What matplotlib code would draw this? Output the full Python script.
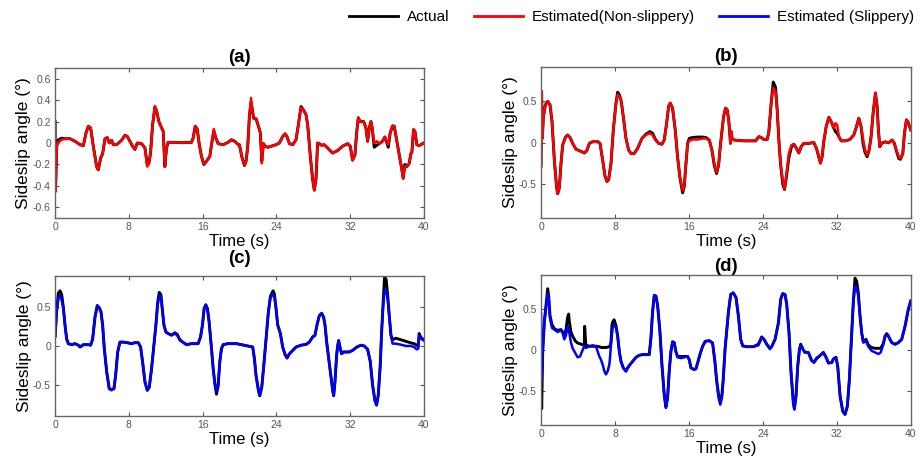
import matplotlib.pyplot as plt
from matplotlib.lines import Line2D

plt.rcParams['font.family'] = ['Liberation Sans', 'DejaVu Sans']

# ---- panel (a): non-slippery ----
ta = [0, 0.05, 0.18, 0.36, 0.72, 1.08, 1.62, 2.17, 2.71, 3.07,
      3.36, 3.61, 3.86, 4.15, 4.51, 4.69, 4.95, 5.16, 5.42, 5.67,
      5.88, 6.14, 6.32, 6.68, 7.22, 7.58, 7.83, 8.12, 8.41, 8.66,
      8.92, 9.39, 9.75, 10.0, 10.22, 10.36, 10.58, 10.83, 11.01, 11.26,
      11.48, 11.73, 11.91, 12.09, 12.27, 12.82, 13.9, 14.8, 14.98, 15.2,
      15.42, 15.63, 15.88, 16.14, 16.43, 16.79, 16.97, 17.22, 17.44, 17.69,
      18.23, 18.77, 19.13, 19.49, 19.86, 20.0, 20.25, 20.54, 20.72, 20.9,
      21.08, 21.26, 21.41, 21.55, 21.81, 22.06, 22.27, 22.42, 22.6, 22.78,
      23.07, 23.43, 23.97, 24.33, 24.69, 24.95, 25.16, 25.42, 25.78, 26.14,
      26.39, 26.68, 26.93, 27.22, 27.4, 27.69, 27.94, 28.12, 28.3, 28.48,
      28.66, 28.92, 29.2, 29.57, 30.11, 30.65, 31.19, 31.73, 32.02, 32.27,
      32.53, 32.71, 32.89, 33.1, 33.47, 33.72, 33.9, 34.08, 34.26, 34.4,
      34.62, 34.91, 35.16, 35.52, 35.78, 35.99, 36.14, 36.35, 36.61, 36.79,
      37.04, 37.33, 37.58, 37.76, 37.94, 38.16, 38.41, 38.59, 38.7, 38.88,
      39.03, 39.24, 39.49, 39.86, 40.0]
a_est = [0.2, -0.45, -0.03, 0.006, 0.03, 0.04, 0.04, 0.016, -0.016, -0.025,
         0.094, 0.156, 0.14, -0.03, -0.22, -0.25, -0.14, -0.1, 0.04, 0.05,
         0.0, 0.025, -0.016, -0.016, 0.025, 0.072, 0.062, 0.016, -0.03, -0.06,
         0.0, -0.006, -0.047, -0.22, -0.19, -0.09, 0.17, 0.345, 0.3, 0.2,
         0.156, 0.11, -0.22, -0.047, 0.006, 0.006, 0.003, 0.006, 0.047, 0.156,
         0.13, -0.006, -0.125, -0.2, -0.17, -0.125, -0.016, 0.13, 0.047, -0.006,
         -0.016, 0.006, 0.03, 0.016, -0.016, -0.016, -0.125, -0.21, -0.17, -0.03,
         0.25, 0.42, 0.3, 0.23, 0.225, 0.156, 0.094, -0.19, -0.006, -0.03,
         -0.04, -0.03, -0.016, 0.0, 0.06, 0.085, 0.06, -0.006, -0.016, 0.03,
         0.17, 0.33, 0.31, 0.265, 0.17, -0.125, -0.34, -0.44, -0.34, 0.0,
         -0.006, -0.022, -0.016, -0.047, -0.094, -0.07, -0.03, -0.006, -0.03, -0.16,
         -0.11, 0.094, 0.235, 0.2, 0.2, 0.14, 0.016, 0.14, 0.2, 0.14,
         0.0, 0.016, -0.006, 0.016, 0.056, 0.0, -0.016, 0.094, 0.16, 0.156,
         0.03, -0.11, -0.23, -0.33, -0.22, -0.22, -0.19, -0.1, -0.09, 0.125,
         0.11, -0.016, -0.025, -0.006, 0.0]
a_act = [0.2, -0.45, -0.03, 0.03, 0.045, 0.04, 0.04, 0.016, -0.016, -0.025,
         0.094, 0.156, 0.14, -0.03, -0.22, -0.25, -0.14, -0.1, 0.04, 0.05,
         0.0, 0.025, -0.016, -0.016, 0.025, 0.072, 0.062, 0.016, -0.03, -0.06,
         0.0, -0.006, -0.047, -0.2, -0.17, -0.09, 0.17, 0.33, 0.3, 0.2,
         0.156, 0.11, -0.22, -0.047, 0.006, 0.006, 0.003, 0.006, 0.047, 0.156,
         0.13, -0.006, -0.125, -0.2, -0.17, -0.125, -0.016, 0.11, 0.047, -0.006,
         -0.016, 0.006, 0.03, 0.016, -0.016, -0.016, -0.125, -0.21, -0.17, -0.03,
         0.25, 0.38, 0.3, 0.23, 0.225, 0.156, 0.094, -0.17, -0.006, -0.03,
         -0.04, -0.03, -0.016, 0.0, 0.06, 0.085, 0.06, -0.006, -0.016, 0.03,
         0.17, 0.34, 0.31, 0.265, 0.17, -0.125, -0.34, -0.44, -0.34, 0.0,
         -0.006, -0.022, -0.016, -0.047, -0.094, -0.07, -0.03, -0.006, -0.03, -0.16,
         -0.11, 0.094, 0.235, 0.2, 0.2, 0.14, 0.016, 0.14, 0.2, 0.14,
         -0.04, -0.02, -0.006, 0.016, 0.056, 0.0, -0.04, 0.094, 0.16, 0.156,
         0.03, -0.11, -0.23, -0.33, -0.2, -0.22, -0.19, -0.1, -0.09, 0.125,
         0.11, -0.016, -0.025, -0.006, 0.0]

# ---- panel (b): non-slippery ----
tb = [0, 0.06, 0.14, 0.25, 0.47, 0.72, 0.97, 1.19, 1.44, 1.69,
      1.8, 1.98, 2.16, 2.34, 2.63, 2.88, 3.14, 3.42, 3.78, 4.32,
      4.68, 4.94, 5.23, 5.59, 6.13, 6.38, 6.67, 6.92, 7.14, 7.32,
      7.57, 7.82, 8.11, 8.29, 8.47, 8.68, 8.9, 9.19, 9.48, 9.73,
      10.09, 10.45, 10.92, 11.35, 11.78, 12.07, 12.36, 12.72, 13.08, 13.33,
      13.59, 13.8, 13.98, 14.23, 14.52, 14.77, 15.03, 15.32, 15.5, 15.68,
      15.86, 16.04, 16.4, 16.94, 17.48, 17.84, 18.2, 18.49, 18.74, 18.99,
      19.21, 19.39, 19.57, 19.75, 19.96, 20.14, 20.32, 20.5, 20.58, 20.68,
      21.05, 21.95, 23.21, 23.57, 23.82, 24.11, 24.47, 24.65, 24.9, 25.12,
      25.37, 25.55, 25.73, 25.91, 26.16, 26.34, 26.56, 26.81, 27.1, 27.35,
      27.64, 27.89, 28.14, 28.43, 28.97, 29.51, 29.8, 30.05, 30.23, 30.41,
      30.59, 30.85, 31.14, 31.39, 31.68, 31.86, 32.04, 32.22, 32.47, 32.94,
      33.41, 33.84, 34.13, 34.38, 34.63, 34.85, 35.06, 35.28, 35.5, 35.71,
      35.93, 36.18, 36.36, 36.5, 36.65, 36.9, 37.26, 37.62, 37.98, 38.23,
      38.45, 38.7, 38.88, 39.14, 39.32, 39.53, 39.68, 40.0]
b_est = [-0.28, 0.61, 0.05, 0.3, 0.45, 0.49, 0.45, 0.25, -0.21, -0.54,
         -0.61, -0.54, -0.25, -0.03, 0.06, 0.09, 0.06, -0.01, -0.08, -0.105,
         -0.125, -0.1, -0.01, 0.01, 0.01, -0.01, -0.21, -0.4, -0.465, -0.44,
         -0.25, 0.15, 0.47, 0.57, 0.55, 0.49, 0.31, 0.05, -0.09, -0.13,
         -0.13, -0.07, 0.05, 0.09, 0.11, 0.09, 0.03, -0.01, -0.02, 0.03,
         0.23, 0.43, 0.47, 0.41, 0.15, -0.17, -0.42, -0.57, -0.52, -0.25,
         -0.01, 0.02, 0.036, 0.036, 0.048, 0.048, 0.028, -0.09, -0.25, -0.355,
         -0.27, -0.05, 0.13, 0.31, 0.41, 0.39, 0.25, -0.01, 0.13, 0.036,
         0.028, 0.02, 0.02, 0.07, 0.06, 0.036, 0.036, 0.13, 0.47, 0.65,
         0.61, 0.39, 0.03, -0.25, -0.46, -0.56, -0.375, -0.13, -0.03, -0.02,
         -0.07, -0.125, -0.05, -0.01, -0.01, 0.0, -0.07, -0.17, -0.245, -0.17,
         0.01, 0.19, 0.3, 0.25, 0.17, 0.23, 0.21, 0.07, 0.02, 0.02,
         0.036, 0.09, 0.19, 0.29, 0.19, 0.03, -0.09, -0.15, -0.09, 0.07,
         0.35, 0.59, 0.43, 0.15, -0.05, -0.004, 0.008, -0.004, 0.03, -0.01,
         -0.09, -0.17, -0.19, -0.13, 0.11, 0.27, 0.25, 0.15]
b_act = [-0.28, 0.61, 0.05, 0.3, 0.45, 0.49, 0.45, 0.25, -0.21, -0.54,
         -0.61, -0.54, -0.25, -0.03, 0.06, 0.09, 0.06, -0.01, -0.08, -0.105,
         -0.125, -0.1, -0.01, 0.01, 0.01, -0.01, -0.21, -0.4, -0.465, -0.44,
         -0.25, 0.15, 0.47, 0.6, 0.57, 0.49, 0.31, 0.05, -0.09, -0.13,
         -0.13, -0.07, 0.05, 0.1, 0.13, 0.11, 0.04, -0.01, -0.02, 0.03,
         0.23, 0.43, 0.47, 0.41, 0.15, -0.17, -0.42, -0.6, -0.52, -0.25,
         -0.01, 0.05, 0.06, 0.065, 0.065, 0.06, 0.03, -0.09, -0.27, -0.37,
         -0.27, -0.05, 0.13, 0.31, 0.41, 0.39, 0.25, -0.01, 0.13, 0.036,
         0.028, 0.02, 0.02, 0.07, 0.06, 0.036, 0.036, 0.13, 0.47, 0.72,
         0.66, 0.39, 0.03, -0.25, -0.5, -0.56, -0.4, -0.18, -0.05, -0.02,
         -0.07, -0.125, -0.05, -0.01, -0.01, 0.0, -0.07, -0.17, -0.245, -0.17,
         0.01, 0.19, 0.3, 0.25, 0.17, 0.13, 0.11, 0.07, 0.02, 0.02,
         0.036, 0.09, 0.19, 0.29, 0.19, -0.02, -0.12, -0.17, -0.09, 0.07,
         0.35, 0.59, 0.43, 0.15, -0.05, -0.004, 0.008, -0.004, 0.03, -0.01,
         -0.1, -0.19, -0.2, -0.13, 0.11, 0.27, 0.25, 0.15]

# ---- panel (c): slippery ----
tc = [0, 0.18, 0.36, 0.54, 0.72, 0.9, 1.08, 1.26, 1.44, 1.81,
      2.17, 2.53, 2.71, 3.07, 3.61, 3.86, 4.08, 4.33, 4.58, 4.8,
      4.98, 5.16, 5.34, 5.6, 5.88, 6.14, 6.39, 6.57, 6.79, 7.04,
      7.4, 7.94, 8.3, 8.66, 9.03, 9.28, 9.49, 9.75, 10.0, 10.22,
      10.47, 10.72, 10.94, 11.12, 11.3, 11.48, 11.66, 11.81, 12.02, 12.27,
      12.64, 13.0, 13.25, 13.54, 13.83, 14.26, 14.8, 15.16, 15.52, 15.78,
      15.99, 16.17, 16.35, 16.53, 16.71, 16.97, 17.15, 17.33, 17.51, 17.69,
      17.87, 18.05, 18.23, 18.77, 19.68, 20.9, 21.44, 21.62, 21.8, 22.06,
      22.2, 22.42, 22.64, 22.89, 23.14, 23.36, 23.65, 23.79, 23.97, 24.15,
      24.44, 24.69, 24.95, 25.16, 25.42, 25.78, 26.14, 26.68, 27.22, 27.58,
      27.94, 28.19, 28.41, 28.66, 28.92, 29.13, 29.28, 29.46, 29.64, 29.86,
      30.11, 30.22, 30.36, 30.54, 30.65, 30.76, 30.9, 31.08, 31.3, 31.55,
      31.91, 32.27, 32.74, 33.18, 33.54, 33.9, 34.19, 34.44, 34.69, 34.87,
      35.05, 35.27, 35.42, 35.56, 35.74, 35.92, 36.07, 36.25, 36.43, 36.61,
      36.97, 37.51, 38.05, 38.59, 38.95, 39.21, 39.39, 39.49, 39.68, 40.0]
c_est = [0.12, 0.44, 0.61, 0.65, 0.59, 0.48, 0.27, 0.09, 0.03, 0.017,
         0.03, 0.01, -0.013, 0.017, 0.017, 0.01, 0.09, 0.37, 0.52, 0.49,
         0.44, 0.27, -0.03, -0.33, -0.55, -0.57, -0.54, -0.38, -0.08, 0.05,
         0.05, 0.04, 0.03, 0.043, 0.043, -0.013, -0.2, -0.46, -0.57, -0.53,
         -0.29, 0.01, 0.27, 0.52, 0.65, 0.63, 0.44, 0.27, 0.18, 0.16,
         0.137, 0.16, 0.137, 0.073, 0.052, 0.017, 0.03, 0.03, 0.03, 0.116,
         0.27, 0.48, 0.53, 0.48, 0.31, -0.034, -0.29, -0.48, -0.58, -0.51,
         -0.2, -0.034, 0.017, 0.03, 0.03, 0.0, -0.013, -0.16, -0.38, -0.57,
         -0.64, -0.53, -0.25, 0.094, 0.44, 0.62, 0.67, 0.63, 0.48, 0.27,
         0.16, -0.013, -0.11, -0.155, -0.1, -0.056, -0.013, 0.01, 0.02, 0.05,
         0.116, 0.137, 0.27, 0.39, 0.42, 0.37, 0.27, 0.05, -0.12, -0.33,
         -0.57, -0.64, -0.46, -0.12, 0.0, 0.07, -0.013, -0.1, -0.077, -0.077,
         -0.077, -0.056, -0.013, 0.01, 0.0, -0.043, -0.2, -0.5, -0.7, -0.76,
         -0.64, -0.25, 0.18, 0.48, 0.7, 0.72, 0.61, 0.39, 0.14, 0.03,
         0.03, 0.017, 0.0, 0.0, -0.013, -0.043, -0.034, 0.14, 0.094, 0.07]
c_act = [0.12, 0.46, 0.68, 0.71, 0.66, 0.5, 0.27, 0.09, 0.03, 0.017,
         0.03, 0.01, -0.013, 0.017, 0.017, 0.01, 0.09, 0.37, 0.52, 0.49,
         0.44, 0.27, -0.03, -0.33, -0.55, -0.56, -0.55, -0.38, -0.08, 0.05,
         0.05, 0.04, 0.03, 0.043, 0.043, -0.013, -0.2, -0.46, -0.57, -0.53,
         -0.29, 0.01, 0.27, 0.55, 0.69, 0.66, 0.44, 0.27, 0.18, 0.16,
         0.14, 0.17, 0.15, 0.08, 0.052, 0.017, 0.03, 0.03, 0.03, 0.116,
         0.27, 0.48, 0.53, 0.48, 0.31, -0.034, -0.29, -0.48, -0.62, -0.51,
         -0.2, -0.034, 0.017, 0.03, 0.03, 0.0, -0.013, -0.16, -0.38, -0.57,
         -0.64, -0.53, -0.25, 0.094, 0.44, 0.64, 0.71, 0.67, 0.48, 0.27,
         0.16, -0.013, -0.11, -0.155, -0.1, -0.056, -0.013, 0.01, 0.02, 0.05,
         0.116, 0.137, 0.27, 0.39, 0.42, 0.37, 0.27, 0.05, -0.12, -0.33,
         -0.57, -0.64, -0.46, -0.12, 0.0, 0.07, -0.013, -0.1, -0.077, -0.077,
         -0.077, -0.056, -0.013, 0.01, 0.0, -0.043, -0.2, -0.5, -0.7, -0.76,
         -0.64, -0.25, 0.18, 0.5, 0.9, 0.85, 0.66, 0.39, 0.14, 0.08,
         0.1, 0.08, 0.06, 0.04, 0.03, 0.01, 0.0, 0.16, 0.11, 0.08]

# ---- panel (d): slippery ----
td = [0, 0.07, 0.18, 0.36, 0.54, 0.72, 0.83, 0.97, 1.19, 1.44,
      1.8, 2.16, 2.34, 2.52, 2.7, 2.88, 2.99, 3.06, 3.17, 3.24,
      3.42, 3.71, 3.96, 4.22, 4.5, 4.68, 4.72, 4.83, 4.86, 5.23,
      5.59, 5.95, 6.13, 6.31, 6.49, 6.67, 6.85, 7.03, 7.21, 7.39,
      7.46, 7.57, 7.68, 7.75, 7.9, 8.11, 8.29, 8.47, 8.65, 8.9,
      9.19, 9.37, 9.62, 9.91, 10.27, 10.63, 10.99, 11.71, 11.89, 12.07,
      12.25, 12.43, 12.61, 12.86, 13.08, 13.33, 13.51, 13.69, 13.87, 14.05,
      14.23, 14.41, 14.59, 14.77, 15.14, 15.5, 15.86, 16.04, 16.22, 16.58,
      16.76, 16.94, 17.19, 17.48, 17.77, 18.2, 18.56, 18.81, 18.99, 19.21,
      19.39, 19.57, 19.71, 19.91, 20.27, 20.52, 20.8, 21.1, 21.35, 21.6,
      21.82, 22.25, 22.97, 23.51, 23.87, 24.13, 24.42, 24.77, 24.95, 25.32,
      25.68, 25.93, 26.14, 26.4, 26.58, 26.83, 27.05, 27.3, 27.41, 27.59,
      27.77, 27.95, 28.09, 28.38, 28.56, 28.92, 29.28, 29.53, 29.82, 30.18,
      30.54, 30.8, 31.09, 31.45, 31.63, 31.91, 32.1, 32.35, 32.64, 32.89,
      33.14, 33.36, 33.61, 33.79, 33.97, 34.15, 34.33, 34.51, 34.69, 34.87,
      35.16, 35.41, 35.77, 36.13, 36.5, 36.75, 37.04, 37.22, 37.4, 37.58,
      37.76, 37.94, 38.3, 38.66, 39.02, 39.38, 39.74, 40.0]
d_est = [0.45, -0.38, -0.02, 0.35, 0.51, 0.69, 0.63, 0.39, 0.27, 0.25,
         0.22, 0.24, 0.21, 0.13, 0.18, 0.29, 0.25, 0.21, 0.14, 0.09,
         0.02, -0.04, -0.09, -0.08, 0.0, 0.045, 0.04, 0.03, 0.025, 0.045,
         0.057, 0.045, -0.02, -0.08, -0.12, -0.18, -0.26, -0.3, -0.26, -0.18,
         -0.1, 0.065, 0.2, 0.27, 0.31, 0.27, 0.17, -0.02, -0.14, -0.22,
         -0.26, -0.22, -0.18, -0.14, -0.09, -0.065, -0.057, -0.057, 0.147, 0.47,
         0.67, 0.66, 0.55, 0.23, -0.18, -0.55, -0.71, -0.59, -0.26, -0.02,
         0.1, 0.09, -0.02, -0.09, -0.1, -0.09, -0.08, -0.12, -0.22, -0.24,
         -0.23, -0.16, -0.057, 0.045, 0.106, 0.114, 0.086, -0.14, -0.38, -0.59,
         -0.67, -0.59, -0.38, 0.01, 0.46, 0.68, 0.7, 0.64, 0.42, 0.13,
         0.05, 0.04, 0.04, 0.057, 0.147, 0.13, 0.07, 0.01, 0.04, 0.13,
         0.33, 0.62, 0.69, 0.68, 0.56, 0.21, -0.28, -0.65, -0.73, -0.56,
         -0.2, 0.0, 0.06, 0.0, -0.03, -0.03, -0.13, -0.155, -0.11, -0.07,
         -0.03, -0.08, -0.16, -0.155, -0.11, -0.09, -0.2, -0.56, -0.75, -0.79,
         -0.69, -0.36, 0.21, 0.58, 0.78, 0.76, 0.66, 0.42, 0.21, 0.09,
         0.11, 0.04, -0.01, -0.03, -0.05, -0.03, 0.07, 0.17, 0.19, 0.17,
         0.13, 0.09, 0.07, 0.09, 0.13, 0.29, 0.5, 0.6]
d_act = [-0.3, -0.72, -0.02, 0.35, 0.55, 0.75, 0.66, 0.42, 0.31, 0.26,
         0.24, 0.25, 0.22, 0.17, 0.25, 0.4, 0.44, 0.35, 0.27, 0.22,
         0.17, 0.11, 0.085, 0.075, 0.065, 0.057, 0.29, 0.085, 0.06, 0.045,
         0.045, 0.045, 0.045, 0.04, 0.03, 0.03, 0.03, 0.03, 0.035, 0.04,
         0.045, 0.1, 0.31, 0.34, 0.37, 0.3, 0.17, -0.02, -0.14, -0.22,
         -0.26, -0.22, -0.18, -0.14, -0.09, -0.065, -0.057, -0.057, 0.147, 0.47,
         0.67, 0.66, 0.55, 0.23, -0.18, -0.55, -0.7, -0.59, -0.26, -0.02,
         0.1, 0.09, -0.02, -0.08, -0.08, -0.08, -0.08, -0.12, -0.22, -0.24,
         -0.23, -0.16, -0.057, 0.045, 0.106, 0.114, 0.086, -0.14, -0.36, -0.55,
         -0.6, -0.55, -0.36, 0.01, 0.46, 0.68, 0.7, 0.64, 0.42, 0.13,
         0.05, 0.04, 0.04, 0.07, 0.16, 0.13, 0.07, 0.02, 0.04, 0.13,
         0.33, 0.62, 0.69, 0.68, 0.56, 0.21, -0.28, -0.65, -0.72, -0.56,
         -0.2, 0.0, 0.07, 0.0, -0.03, -0.03, -0.13, -0.15, -0.1, -0.07,
         -0.03, -0.08, -0.16, -0.155, -0.11, -0.09, -0.2, -0.56, -0.75, -0.79,
         -0.69, -0.36, 0.21, 0.6, 0.88, 0.84, 0.7, 0.42, 0.21, 0.1,
         0.13, 0.06, 0.03, 0.02, 0.02, 0.02, 0.08, 0.17, 0.2, 0.17,
         0.13, 0.09, 0.07, 0.09, 0.13, 0.29, 0.5, 0.6]

xticks = [0, 8, 16, 24, 32, 40]
yticks_a = [-0.6, -0.4, -0.2, 0, 0.2, 0.4, 0.6]
ylabels_a = ['-0.6', '-0.4', '-0.2', '0', '0.2', '0.4', '0.6']
yticks_bcd = [-0.5, 0, 0.5]
ylabels_bcd = ['-0.5', '0', '0.5']

fig = plt.figure(figsize=(9.22, 4.62), dpi=100)


def panel(rect, t, act, est, color, title, ylim, yticks, ylabels, pad):
    ax = fig.add_axes(rect)
    ax.plot(t, act, color='black', lw=2.1)
    ax.plot(t, est, color=color, lw=1.8)
    ax.set_xlim(0, 40)
    ax.set_ylim(ylim)
    ax.set_xticks(xticks)
    ax.set_yticks(yticks)
    ax.set_yticklabels(ylabels)
    ax.tick_params(direction='in', top=True, right=True, length=3,
                   labelsize=7.5, labelcolor='#555555', color='#555555', pad=3)
    for s in ax.spines.values():
        s.set_color('#666666')
        s.set_linewidth(1.0)
    ax.set_title(title, fontsize=13.5, fontweight='bold', pad=pad)
    ax.set_xlabel('Time (s)', fontsize=12, labelpad=1)
    ax.set_ylabel('Sideslip angle (°)', fontsize=12.5, labelpad=1)
    return ax


panel([0.0597, 0.528, 0.400, 0.325], ta, a_act, a_est, '#ff0000', '(a)',
      (-0.7, 0.7), yticks_a, ylabels_a, 4)
panel([0.5868, 0.528, 0.401, 0.327], tb, b_act, b_est, '#ff0000', '(b)',
      (-0.9, 0.9), yticks_bcd, ylabels_bcd, 4)
panel([0.0597, 0.0996, 0.400, 0.303], tc, c_act, c_est, '#0000ff', '(c)',
      (-0.9, 0.9), yticks_bcd, ylabels_bcd, 9)
panel([0.5868, 0.080, 0.401, 0.325], td, d_act, d_est, '#0000ff', '(d)',
      (-0.92, 0.92), yticks_bcd, ylabels_bcd, 3)

handles = [Line2D([], [], color='black', lw=2),
           Line2D([], [], color='#ff0000', lw=2),
           Line2D([], [], color='#0000ff', lw=2)]
fig.legend(handles, ['Actual', 'Estimated(Non-slippery)', 'Estimated (Slippery)'],
           ncol=3, loc='center', bbox_to_anchor=(0.685, 0.963), frameon=False,
           fontsize=11, handlelength=3.2, columnspacing=1.6, handletextpad=0.6)

fig.savefig('out.png', dpi=100)
